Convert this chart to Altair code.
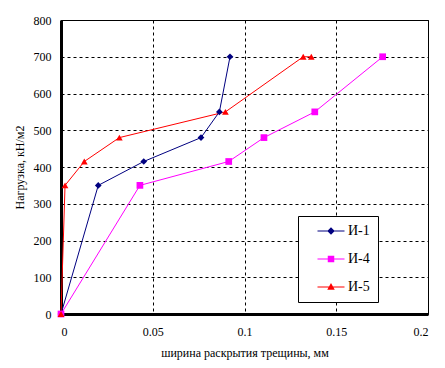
import altair as alt
import pandas as pd

series_names = ["И-1", "И-4", "И-5"]
colors = ["#000080", "#FF00FF", "#FF0000"]
marker_shapes = ["diamond", "square", "triangle-up"]

x_i1 = [0, 0.0203, 0.0451, 0.0763, 0.0863, 0.0921]
y_i1 = [0, 350, 415, 480, 550, 700]
x_i4 = [0, 0.043, 0.0914, 0.1106, 0.1383, 0.1753]
y_i4 = [0, 350, 415, 480, 550, 700]
x_i5 = [0, 0.0022, 0.0127, 0.0318, 0.0896, 0.132, 0.1364]
y_i5 = [0, 350, 415, 480, 550, 700, 700]

x_ticks = [0, 0.05, 0.1, 0.15, 0.2]
y_ticks = [0, 100, 200, 300, 400, 500, 600, 700, 800]

rows = []
for name, xs, ys in [("И-1", x_i1, y_i1), ("И-4", x_i4, y_i4), ("И-5", x_i5, y_i5)]:
    for i, (xv, yv) in enumerate(zip(xs, ys)):
        rows.append({"series": name, "x": xv, "y": yv, "order": i})
df = pd.DataFrame(rows)

FONT = "Times New Roman, Liberation Serif, DejaVu Serif, serif"

x_axis = alt.Axis(values=x_ticks, format="~g", title="ширина раскрытия трещины, мм",
                  titleX=183.5, titleY=38, titleBaseline="middle",
                  domainWidth=3, labelPadding=12, tickCount=50,
                  labelFont=FONT, titleFont=FONT)
y_axis = alt.Axis(values=y_ticks, format="d", title="Нагрузка, кН/м2",
                  titleX=-42, titleY=147, titleBaseline="middle", titleAngle=270,
                  domainWidth=3, labelPadding=10, tickCount=50,
                  labelFont=FONT, titleFont=FONT)
x_scale = alt.Scale(domain=[0, 0.2], nice=False, zero=True)
y_scale = alt.Scale(domain=[0, 800], nice=False)

def xe():
    return alt.X("x:Q", scale=x_scale, axis=x_axis)

def ye():
    return alt.Y("y:Q", scale=y_scale, axis=y_axis)

layers = []
for name, col in zip(series_names, colors):
    layers.append(
        alt.Chart(df).transform_filter(alt.datum.series == name)
        .mark_line(strokeWidth=1, color=col)
        .encode(x=xe(), y=ye(), order="order:Q")
    )
for name, col, shp in zip(series_names, colors, marker_shapes):
    layers.append(
        alt.Chart(df).transform_filter(alt.datum.series == name)
        .mark_point(filled=True, size=45, opacity=1, shape=shp, color=col)
        .encode(x=xe(), y=ye())
    )

# legend symbols: a thin bar (the line) plus the marker, as filled paths
legend_shapes = [
    "M-2.7,-0.1H2.7V0.1H-2.7ZM0,-0.75L0.75,0L0,0.75L-0.75,0Z",
    "M-2.7,-0.1H2.7V0.1H-2.7ZM-0.65,-0.65H0.65V0.65H-0.65Z",
    "M-2.7,-0.1H2.7V0.1H-2.7ZM0,-0.8L0.75,0.55L-0.75,0.55Z",
]
leg = alt.Legend(orient="none", legendX=237, legendY=196, title=None, padding=8,
                 strokeColor="black", fillColor="white", symbolOffset=18, labelOffset=10,
                 rowPadding=14, symbolSize=100, symbolStrokeWidth=0,
                 labelFont=FONT, labelFontSize=14, labelColor="black")
legend_layer = alt.Chart(df).transform_filter("datum.y < 0").mark_point(filled=True, opacity=1).encode(
    x=xe(), y=ye(),
    color=alt.Color("series:N", scale=alt.Scale(domain=series_names, range=colors), legend=leg),
    shape=alt.Shape("series:N", scale=alt.Scale(domain=series_names, range=legend_shapes), legend=leg),
)
layers.append(legend_layer)

chart = alt.layer(*layers).properties(
    width=367, height=294,
    autosize=alt.AutoSizeParams(type="none"),
    padding={"left": 53, "top": 12, "right": 9, "bottom": 46},
    background="white",
).configure(font=FONT).configure_view(stroke="black", strokeWidth=1).configure_axis(
    grid=True, gridColor="black", gridDash=[3, 3], gridWidth=1, gridOpacity=1,
    domainColor="black", ticks=False, labelFont=FONT, labelFontSize=12, labelColor="black",
    titleFont=FONT, titleFontSize=12, titleFontWeight="normal", titleColor="black",
)

chart.save("out.html", embed_options={"renderer": "svg", "actions": False})
